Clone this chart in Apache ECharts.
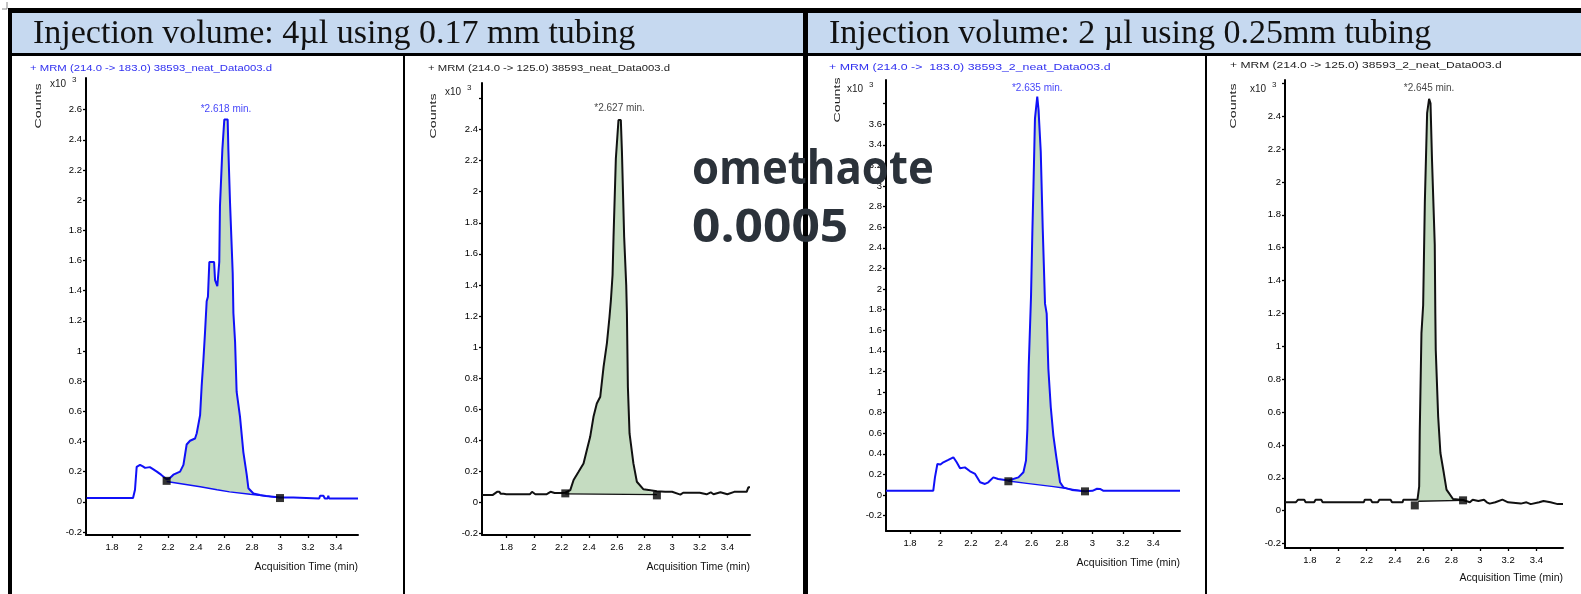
<!DOCTYPE html>
<html>
<head>
<meta charset="utf-8">
<title>ECharts</title>
<script src="https://cdn.jsdelivr.net/npm/echarts@6/dist/echarts.min.js"></script>
</head>
<body style="margin:0;background:#fff">
<div id="main" style="width:1581px;height:594px;"></div>
<script type="text/javascript">
// chromatogram traces: [time (min), counts x10^3]
// panel 1: MRM 214 -> 183, 4 ul, 0.17 mm
var trace1 = [[1.619,0.025],[1.95,0.025],[1.964,0.08],[1.976,0.232],[2.0,0.245],[2.02,0.235],[2.036,0.225],[2.05,0.232],[2.07,0.23],
  [2.09,0.218],[2.12,0.2],[2.15,0.18],[2.19,0.15],[2.21,0.155],[2.238,0.18],[2.262,0.19],[2.286,0.2],[2.31,0.245],[2.333,0.38],
  [2.357,0.405],[2.393,0.42],[2.405,0.455],[2.429,0.575],[2.44,0.765],[2.452,0.93],[2.464,1.12],[2.476,1.33],[2.485,1.36],
  [2.495,1.59],[2.529,1.59],[2.536,1.47],[2.552,1.43],[2.566,1.59],[2.571,1.96],[2.588,2.335],[2.602,2.535],[2.626,2.535],
  [2.631,2.335],[2.643,1.98],[2.662,1.515],[2.667,1.25],[2.679,1.06],[2.69,0.73],[2.714,0.565],[2.738,0.33],[2.762,0.18],
  [2.774,0.09],[2.81,0.055],[2.857,0.045],[2.9,0.038],[3.0,0.028],[3.095,0.028],[3.1,0.022],[3.28,0.022],[3.286,0.04],
  [3.31,0.04],[3.32,0.022],[3.34,0.022],[3.345,0.04],[3.35,0.022],[3.557,0.022]];
var base1 = [[2.19,0.135],[2.43,0.1],[2.55,0.08],[2.64,0.066],[2.786,0.05],[3.0,0.028]];
var marks1 = [[2.19,0.139],[3.0,0.025]];
var peak1 = [2.614, 2.535];

// panel 2: MRM 214 -> 125, 4 ul, 0.17 mm
var trace2 = [[1.624,0.047],[1.70,0.047],[1.733,0.068],[1.75,0.068],[1.76,0.055],[1.78,0.055],[1.79,0.065],[1.80,0.052],
  [1.97,0.052],[1.986,0.068],[2.0,0.068],[2.01,0.052],[2.09,0.052],[2.12,0.068],[2.15,0.06],[2.2,0.06],[2.227,0.062],
  [2.263,0.079],[2.287,0.144],[2.323,0.197],[2.359,0.251],[2.383,0.337],[2.407,0.422],[2.431,0.551],[2.455,0.637],
  [2.48,0.68],[2.504,0.873],[2.528,1.024],[2.547,1.195],[2.557,1.30],[2.569,1.464],[2.576,1.704],[2.593,2.215],
  [2.612,2.462],[2.629,2.462],[2.637,2.258],[2.653,1.71],[2.668,1.399],[2.673,1.217],[2.68,0.745],[2.692,0.444],
  [2.72,0.251],[2.745,0.133],[2.793,0.084],[2.89,0.072],[2.95,0.068],[3.0,0.068],[3.06,0.05],[3.08,0.062],[3.2,0.062],
  [3.25,0.052],[3.28,0.065],[3.30,0.052],[3.35,0.065],[3.40,0.052],[3.45,0.068],[3.54,0.068],[3.552,0.097],[3.564,0.097]];
var base2 = [[2.227,0.055],[2.89,0.05]];
var marks2 = [[2.227,0.058],[2.89,0.045]];
var peak2 = [2.62, 2.462];

// panel 3: MRM 214 -> 183, 2 ul, 0.25 mm
var trace3 = [[1.642,0.042],[1.953,0.042],[1.964,0.171],[1.98,0.301],[2.0,0.295],[2.019,0.317],[2.052,0.34],[2.085,0.366],
  [2.107,0.317],[2.129,0.259],[2.161,0.268],[2.195,0.23],[2.228,0.204],[2.261,0.123],[2.293,0.107],[2.315,0.123],
  [2.348,0.171],[2.38,0.155],[2.447,0.14],[2.513,0.171],[2.546,0.22],[2.563,0.334],[2.572,0.642],[2.581,1.258],
  [2.596,1.93],[2.605,2.571],[2.612,2.993],[2.622,3.658],[2.637,3.868],[2.645,3.75],[2.651,3.738],[2.66,3.333],
  [2.673,2.587],[2.688,1.858],[2.699,1.761],[2.71,1.226],[2.726,0.852],[2.743,0.577],[2.761,0.382],[2.787,0.123],
  [2.809,0.074],[2.864,0.049],[2.951,0.035],[3.0,0.04],[3.03,0.06],[3.05,0.059],[3.07,0.042],[3.576,0.042]];
var base3 = [[2.447,0.135],[2.568,0.113],[2.743,0.081],[2.809,0.068],[2.951,0.035]];
var marks3 = [[2.447,0.133],[2.951,0.035]];
var peak3 = [2.637, 3.868];

// panel 4: MRM 214 -> 125, 2 ul, 0.25 mm
var trace4 = [[1.624,0.051],[1.70,0.051],[1.717,0.067],[1.76,0.067],[1.77,0.051],[1.83,0.051],[1.84,0.067],[1.88,0.067],
  [1.89,0.051],[2.18,0.051],[2.188,0.067],[2.23,0.067],[2.24,0.051],[2.28,0.051],[2.29,0.067],[2.37,0.067],[2.38,0.051],
  [2.455,0.051],[2.46,0.067],[2.56,0.067],[2.565,0.057],[2.572,0.148],[2.576,0.482],[2.588,1.08],[2.6,1.25],[2.612,1.88],
  [2.628,2.418],[2.642,2.505],[2.652,2.478],[2.663,2.123],[2.682,1.617],[2.686,1.2],[2.689,0.979],[2.706,0.573],
  [2.722,0.351],[2.746,0.229],[2.765,0.128],[2.811,0.071],[2.882,0.065],[2.93,0.051],[2.95,0.067],[2.99,0.059],
  [3.03,0.067],[3.05,0.051],[3.07,0.043],[3.11,0.051],[3.16,0.067],[3.20,0.051],[3.29,0.043],[3.33,0.051],[3.36,0.04],
  [3.42,0.051],[3.45,0.059],[3.5,0.051],[3.55,0.04],[3.588,0.04]];
var base4 = [[2.565,0.057],[2.882,0.063]];
var marks4 = [[2.541,0.032],[2.882,0.063]];
var peak4 = [2.642, 2.505];

var xTicks = [1.8, 2, 2.2, 2.4, 2.6, 2.8, 3, 3.2, 3.4];
var yTicks26 = [-0.2, 0, 0.2, 0.4, 0.6, 0.8, 1, 1.2, 1.4, 1.6, 1.8, 2, 2.2, 2.4, 2.6];
var yLabels2 = [-0.2, 0, 0.2, 0.4, 0.6, 0.8, 1, 1.2, 1.4, 1.6, 1.8, 2, 2.2, 2.4];
var yTicks38 = [-0.2, 0, 0.2, 0.4, 0.6, 0.8, 1, 1.2, 1.4, 1.6, 1.8, 2, 2.2, 2.4, 2.6, 2.8, 3, 3.2, 3.4, 3.6, 3.8];
var yLabels3 = [-0.2, 0, 0.2, 0.4, 0.6, 0.8, 1, 1.2, 1.4, 1.6, 1.8, 2, 2.2, 2.4, 2.6, 2.8, 3, 3.2, 3.4, 3.6];

var headers = ['Injection volume: 4\u00b5l using 0.17 mm tubing', 'Injection volume: 2 \u00b5l using 0.25mm tubing'];
var titles = ['+ MRM (214.0 -> 183.0) 38593_neat_Data003.d', '+ MRM (214.0 -> 125.0) 38593_neat_Data003.d',
  '+ MRM (214.0 ->  183.0) 38593_2_neat_Data003.d', '+ MRM (214.0 -> 125.0) 38593_2_neat_Data003.d'];
var peakLabels = ['*2.618 min.', '*2.627 min.', '*2.635 min.', '*2.645 min.'];
var overlay = ['omethaote', '0.0005'];

var BLUE = '#1010f8', BLACK = '#111';

var myChart = echarts.init(document.getElementById('main'));

// polygon between the trace and the integration baseline
function fillPoly(trace, base) {
    var x0 = base[0][0], x1 = base[base.length - 1][0];
    var pts = [base[0]];
    trace.forEach(function (p) { if (p[0] > x0 && p[0] < x1) pts.push(p); });
    for (var i = base.length - 1; i > 0; i--) pts.push(base[i]);
    return pts;
}

function panelSeries(i, trace, base, marks, peak, color, label, dist) {
    var poly = fillPoly(trace, base);
    return [
        {
            type: 'custom', xAxisIndex: i, yAxisIndex: i, z: 1, silent: true,
            data: [poly[0]],
            renderItem: function (params, api) {
                return {
                    type: 'polygon',
                    shape: { points: poly.map(function (p) { return api.coord(p); }) },
                    style: { fill: '#c5dcc1' }
                };
            }
        },
        { type: 'line', xAxisIndex: i, yAxisIndex: i, z: 2, data: base, symbol: 'none', silent: true,
          lineStyle: { color: color, width: 1.4 } },
        { type: 'line', xAxisIndex: i, yAxisIndex: i, z: 3, data: trace, symbol: 'none', silent: true,
          lineStyle: { color: color, width: 2 } },
        { type: 'scatter', xAxisIndex: i, yAxisIndex: i, z: 4, data: marks, symbol: 'rect', symbolSize: 8,
          itemStyle: { color: '#000' }, silent: true },
        { type: 'scatter', xAxisIndex: i, yAxisIndex: i, z: 5, data: [peak], symbolSize: 1, silent: true,
          itemStyle: { color: 'rgba(0,0,0,0)' },
          label: { show: true, position: 'top', distance: dist, formatter: label, color: color,
                   fontSize: 10, fontFamily: 'Liberation Sans' } }
    ];
}

function fmt(v) { return String(Math.round(v * 10) / 10); }

function xAxisOf(i, min, max, namePad) {
    return {
        gridIndex: i, type: 'value', min: min, max: max,
        axisLine: { onZero: false, lineStyle: { color: '#000', width: 2 } },
        axisTick: { customValues: xTicks, length: 3, lineStyle: { color: '#000', width: 1.3 } },
        axisLabel: { customValues: xTicks, formatter: fmt, fontSize: 9.5, color: '#000', margin: 7, fontFamily: 'Liberation Sans' },
        splitLine: { show: false },
        name: 'Acquisition Time (min)', nameLocation: 'end', nameGap: 0,
        nameTextStyle: { align: 'right', verticalAlign: 'top', padding: [namePad, 0, 0, 0], fontSize: 10.5,
                         color: '#111', fontFamily: 'Liberation Sans' }
    };
}

function yAxisOf(i, min, max, ticks, labels) {
    return {
        gridIndex: i, type: 'value', min: min, max: max,
        axisLine: { lineStyle: { color: '#000', width: 2 } },
        axisTick: { customValues: ticks, length: 3, lineStyle: { color: '#000', width: 1.3 } },
        axisLabel: { customValues: labels, formatter: fmt, fontSize: 9.5, color: '#000', margin: 4, fontFamily: 'Liberation Sans' },
        splitLine: { show: false }
    };
}

function txt(x, y, str, font, fill, extra) {
    var el = { type: 'text', x: x, y: y, z: 50, silent: true,
               style: { text: str, font: font, fill: fill, verticalAlign: 'middle' } };
    if (extra) for (var k in extra) el[k] = extra[k];
    return el;
}
function vtxt(x, y, str, font) {
    return { type: 'text', x: x, y: y, z: 50, silent: true, rotation: Math.PI / 2, scaleX: 1.5,
             style: { text: str, font: font, fill: '#222', align: 'center', verticalAlign: 'middle' } };
}
function box(x, y, w, h, fill) {
    return { type: 'rect', z: 40, silent: true, shape: { x: x, y: y, width: w, height: h }, style: { fill: fill } };
}

var small = '9.5px "Liberation Sans"';
var graphics = [
    box(12, 12, 1569, 41, '#c6d9f0'),
    box(8, 8, 1573, 5, '#000'),
    box(8, 8, 4, 586, '#000'),
    box(12, 53, 1569, 3, '#000'),
    box(803, 8, 5, 586, '#000'),
    box(403, 56, 2, 538, '#000'),
    box(1205, 56, 2, 538, '#000'),
    { type: 'polyline', z: 40, silent: true, shape: { points: [[7, 2], [7, 9], [2, 9]] }, style: { stroke: '#888', lineWidth: 1, fill: null } },
    txt(33, 34, headers[0], '34px "Liberation Serif"', '#111'),
    txt(829, 34, headers[1], '34px "Liberation Serif"', '#111'),
    txt(30, 68, titles[0], small, '#3030f0', { scaleX: 1.19 }),
    txt(428, 68, titles[1], small, '#222', { scaleX: 1.19 }),
    txt(829, 67, titles[2], small, '#3030f0', { scaleX: 1.3 }),
    txt(1230, 65, titles[3], small, '#222', { scaleX: 1.27 }),
    vtxt(38, 106, 'Counts', small),
    vtxt(433, 116, 'Counts', small),
    vtxt(837, 100, 'Counts', small),
    vtxt(1233, 106, 'Counts', small),
    txt(50, 84, 'x10', '10px "Liberation Sans"', '#222'), txt(72, 80, '3', '8px "Liberation Sans"', '#222'),
    txt(445, 92, 'x10', '10px "Liberation Sans"', '#222'), txt(467, 88, '3', '8px "Liberation Sans"', '#222'),
    txt(847, 89, 'x10', '10px "Liberation Sans"', '#222'), txt(869, 85, '3', '8px "Liberation Sans"', '#222'),
    txt(1250, 89, 'x10', '10px "Liberation Sans"', '#222'), txt(1272, 85, '3', '8px "Liberation Sans"', '#222'),
    txt(692, 171, overlay[0], 'bold 46px "Open Sans"', '#2b323a', { z: 60, scaleX: 0.95 }),
    txt(692, 229, overlay[1], 'bold 46px "Open Sans"', '#2b323a', { z: 60, scaleX: 1.08 })
];

var option = {
    animation: false,
    backgroundColor: '#fff',
    grid: [
        { left: 86, top: 78, width: 272, height: 457, outerBoundsMode: 'none' },
        { left: 482, top: 83, width: 268, height: 452, outerBoundsMode: 'none' },
        { left: 886, top: 80, width: 294, height: 451, outerBoundsMode: 'none' },
        { left: 1285, top: 80, width: 278, height: 468, outerBoundsMode: 'none' }
    ],
    xAxis: [
        xAxisOf(0, 1.614, 3.557, 27),
        xAxisOf(1, 1.624, 3.564, 27),
        xAxisOf(2, 1.642, 3.576, 27),
        xAxisOf(3, 1.624, 3.588, 25)
    ],
    yAxis: [
        yAxisOf(0, -0.22, 2.81, yTicks26, yTicks26),
        yAxisOf(1, -0.21, 2.70, yTicks26, yLabels2),
        yAxisOf(2, -0.35, 4.03, yTicks38, yLabels3),
        yAxisOf(3, -0.227, 2.62, yTicks26, yLabels2)
    ],
    series: [].concat(
        panelSeries(0, trace1, base1, marks1, peak1, BLUE, peakLabels[0], 5),
        panelSeries(1, trace2, base2, marks2, peak2, BLACK, peakLabels[1], 6),
        panelSeries(2, trace3, base3, marks3, peak3, BLUE, peakLabels[2], 3),
        panelSeries(3, trace4, base4, marks4, peak4, BLACK, peakLabels[3], 5)
    ),
    graphic: graphics
};

myChart.setOption(option);
</script>
</body>
</html>
